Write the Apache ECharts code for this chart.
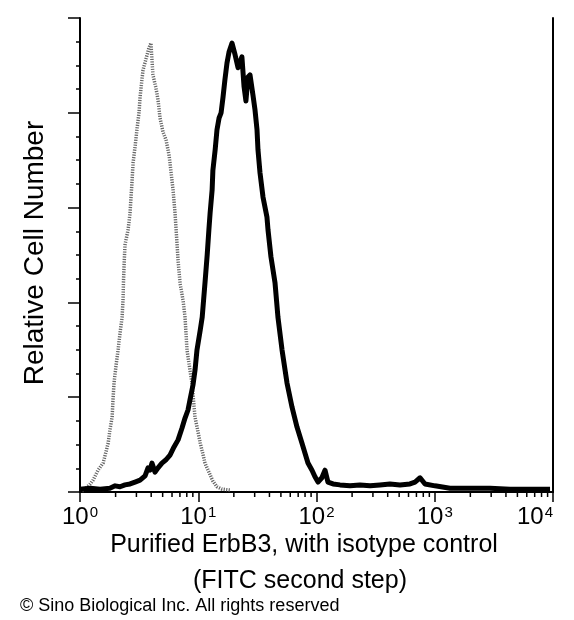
<!DOCTYPE html>
<html>
<head>
<meta charset="utf-8">
<script src="https://cdn.jsdelivr.net/npm/echarts/dist/echarts.min.js"></script>
<style>
  html, body { margin: 0; padding: 0; background: #fff; }
  #chart { width: 574px; height: 620px; }
</style>
</head>
<body>
<div id="chart"></div>
<script>
// isotype control (gray, dotted) - fluorescence / relative count
var isoX = [1.04, 1.10, 1.22, 1.29, 1.42, 1.57, 1.73, 1.79, 1.87, 1.90,
  1.94, 2.02, 2.10, 2.18, 2.27, 2.31, 2.33, 2.36, 2.40, 2.55,
  2.65, 2.70, 2.75, 2.81, 2.92, 3.03, 3.16, 3.22, 3.41, 3.69,
  3.83, 3.98, 4.06, 4.14, 4.39, 4.57, 4.75, 5.04, 5.34, 5.66,
  5.89, 6.12, 6.36, 6.61, 6.75, 7.01, 7.43, 7.73, 8.03, 8.51,
  8.85, 9.39, 9.95, 10.4, 11.0, 11.4, 12.1, 12.6, 13.3, 14.4,
  15.9, 18.6]
var isoY = [0.2, 0.6, 1.7, 2.5, 4.6, 6.1, 10.3, 13.1, 15.8, 19.4,
  23.0, 26.8, 30.0, 33.5, 36.9, 40.5, 44.1, 47.9, 52.1, 55.3,
  58.9, 62.2, 65.2, 69.4, 72.8, 76.4, 80.2, 83.3, 89.0, 92.2,
  93.7, 94.7, 91.1, 88.0, 85.2, 82.7, 78.9, 75.9, 74.3, 71.1,
  67.5, 63.7, 58.9, 52.5, 48.9, 44.1, 40.5, 36.9, 30.0, 25.7,
  23.0, 15.8, 12.7, 10.3, 7.8, 6.1, 4.6, 3.6, 2.3, 1.1,
  0.6, 0.4]

// purified ErbB3 (black)
var erbX = [1.00, 1.22, 1.48, 1.79, 1.98, 2.18, 2.40, 2.65, 2.92, 3.22,
  3.55, 3.76, 3.91, 4.06, 4.31, 4.57, 4.93, 5.34, 5.77, 6.24,
  6.75, 7.29, 7.73, 8.19, 8.51, 9.03, 9.39, 9.76, 10.4, 10.8,
  11.4, 11.9, 12.3, 12.6, 13.1, 13.3, 13.9, 14.4, 15.0, 15.6,
  16.2, 16.8, 17.5, 18.2, 19.3, 20.5, 21.7, 23.4, 24.4, 25.3,
  26.3, 27.4, 29.0, 30.2, 31.4, 32.0, 33.3, 35.3, 38.1, 38.9,
  41.2, 44.6, 47.2, 51.1, 56.3, 62.1, 68.4, 75.4, 84.7, 91.6,
  97.1, 103, 111, 118, 125, 138, 158, 192, 233, 284,
  344, 418, 508, 617, 681, 751, 827, 1005, 1345, 1986,
  2933, 4328, 6390, 9440]
var erbY = [0.6, 0.8, 0.6, 0.8, 1.3, 1.1, 1.5, 1.7, 2.1, 2.5,
  3.4, 5.1, 4.6, 6.1, 4.2, 5.1, 6.1, 6.8, 7.8, 9.5,
  11.0, 13.5, 15.6, 17.3, 19.4, 22.6, 25.7, 30.0, 34.2, 36.9,
  44.1, 50.0, 55.3, 58.9, 63.7, 67.9, 72.2, 76.4, 78.9, 80.0,
  83.3, 86.9, 90.5, 92.8, 94.7, 92.2, 89.5, 91.8, 85.5, 82.5,
  87.5, 88.0, 83.8, 80.6, 76.4, 72.2, 67.3, 62.2, 58.0, 55.3,
  49.6, 44.1, 36.9, 30.0, 23.0, 17.9, 13.7, 10.3, 6.1, 4.6,
  3.2, 2.1, 3.0, 4.6, 2.1, 1.7, 1.5, 1.3, 1.5, 1.3,
  1.5, 1.7, 1.5, 1.7, 2.1, 3.0, 1.7, 1.3, 0.8, 0.8,
  0.8, 0.6, 0.6, 0.6]

var decades = [1, 10, 100, 1000]
var minorSteps = [2, 3, 4, 5, 6, 7, 8, 9]

var FONT = "'Liberation Sans', Arial, Helvetica, sans-serif"

function zip(xs, ys) {
  return xs.map(function (x, i) { return [x, ys[i]] })
}

// log minor tick positions (2..9 of each decade)
var minorTicks = []
decades.forEach(function (d) {
  minorSteps.forEach(function (m) { minorTicks.push([d * m, 0]) })
})

var chart = echarts.init(document.getElementById('chart'))
chart.setOption({
  animation: false,
  backgroundColor: '#fff',
  grid: { left: 80, right: 21, top: 18, bottom: 128, containLabel: false },
  xAxis: [
    {
      type: 'log',
      logBase: 10,
      min: 1,
      max: 10000,
      axisLine: { show: true, lineStyle: { color: '#000', width: 2 } },
      axisTick: { show: true, length: 10, lineStyle: { color: '#000', width: 1.5 } },
      splitLine: { show: false },
      axisLabel: {
        margin: 13,
        color: '#000',
        alignMaxLabel: 'right',
        formatter: function (v) {
          return '{b|10}{s|' + Math.round(Math.log10(v)) + '}'
        },
        rich: {
          b: { fontFamily: FONT, fontSize: 24, color: '#000' },
          s: { fontFamily: FONT, fontSize: 15, color: '#000', verticalAlign: 'top', padding: [0, 0, 0, 1] }
        }
      }
    },
    {
      type: 'value',
      position: 'top',
      min: 0,
      max: 1,
      axisLine: { show: true, lineStyle: { color: '#000', width: 2 } },
      axisTick: { show: false },
      axisLabel: { show: false },
      splitLine: { show: false }
    }
  ],
  yAxis: [
    {
      type: 'value',
      min: 0,
      max: 100,
      interval: 20,
      axisLine: { show: true, lineStyle: { color: '#000', width: 2 } },
      axisTick: { show: true, length: 12, lineStyle: { color: '#000', width: 1.5 } },
      minorTick: { show: true, splitNumber: 4, length: 4, lineStyle: { color: '#000', width: 1.5 } },
      axisLabel: { show: false },
      splitLine: { show: false }
    },
    {
      type: 'value',
      position: 'right',
      min: 0,
      max: 1,
      axisLine: { show: true, lineStyle: { color: '#000', width: 2 } },
      axisTick: { show: false },
      axisLabel: { show: false },
      splitLine: { show: false }
    }
  ],
  series: [
    {
      name: 'isotype control',
      type: 'line',
      data: zip(isoX, isoY),
      showSymbol: false,
      symbol: 'none',
      smooth: false,
      lineStyle: { color: '#666', width: 3.5, type: [1.2, 1.3] },
      z: 2
    },
    {
      name: 'ErbB3',
      type: 'line',
      data: zip(erbX, erbY),
      showSymbol: false,
      symbol: 'none',
      smooth: false,
      lineStyle: { color: '#000', width: 5, join: 'round' },
      z: 3
    },
    {
      name: 'minor ticks',
      type: 'custom',
      silent: true,
      clip: false,
      data: minorTicks,
      renderItem: function (params, api) {
        var p = api.coord([api.value(0), 0])
        return {
          type: 'line',
          shape: { x1: p[0], y1: p[1], x2: p[0], y2: p[1] + 5 },
          style: { stroke: '#000', lineWidth: 1.5 }
        }
      },
      z: 4
    }
  ],
  graphic: [
    {
      type: 'text',
      x: 35, y: 253,
      rotation: Math.PI / 2,
      style: {
        text: 'Relative Cell Number',
        fontFamily: FONT, fontSize: 28, fill: '#000',
        align: 'center', verticalAlign: 'middle'
      }
    },
    {
      type: 'text',
      x: 304, y: 545,
      style: {
        text: 'Purified ErbB3, with isotype control',
        fontFamily: FONT, fontSize: 25, fill: '#000',
        align: 'center', verticalAlign: 'middle'
      }
    },
    {
      type: 'text',
      x: 300, y: 581,
      style: {
        text: '(FITC second step)',
        fontFamily: FONT, fontSize: 25, fill: '#000',
        align: 'center', verticalAlign: 'middle'
      }
    },
    {
      type: 'text',
      x: 20, y: 606,
      style: {
        text: '© Sino Biological Inc. All rights reserved',
        fontFamily: FONT, fontSize: 18, fill: '#000',
        align: 'left', verticalAlign: 'middle'
      }
    }
  ]
})
</script>
</body>
</html>
